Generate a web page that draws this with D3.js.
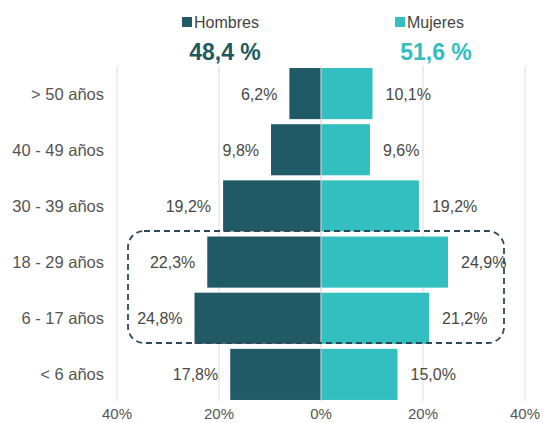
<!DOCTYPE html>
<html>
<head>
<meta charset="utf-8">
<script src="https://cdn.jsdelivr.net/npm/d3@7"></script>
<style>
  body { margin: 0; background: #fff; }
  text { font-family: "Liberation Sans", Arial, sans-serif; }
</style>
</head>
<body>
<script>
let width = 543, height = 423;

// data
let grupos = ["> 50 años", "40 - 49 años", "30 - 39 años", "18 - 29 años", "6 - 17 años", "< 6 años"];
let hombres = [6.2, 9.8, 19.2, 22.3, 24.8, 17.8];
let mujeres = [10.1, 9.6, 19.2, 24.9, 21.2, 15.0];
let ticks = [-40, -20, 0, 20, 40];
let totales = ["48,4 %", "51,6 %"];
let series = ["Hombres", "Mujeres"];

let colH = "#215a67", colM = "#33bfc0";

let svg = d3.select("body").append("svg")
    .attr("width", width)
    .attr("height", height);

let x = d3.scaleLinear().domain([-40, 40]).range([117, 525]);
let y = d3.scaleBand().domain(grupos).range([65.5, 402.5]).paddingInner(0.09).paddingOuter(0.045);

let fmt = v => d3.format(".1f")(v).replace(".", ",") + "%";

// grid
svg.selectAll("line.grid").data(ticks).enter().append("line")
    .attr("class", "grid")
    .attr("x1", d => x(d)).attr("x2", d => x(d))
    .attr("y1", 66).attr("y2", 401)
    .attr("stroke", "#dcdcdc").attr("stroke-width", 1);

// bars
svg.selectAll("rect.h").data(grupos).enter().append("rect")
    .attr("class", "h")
    .attr("x", (d, i) => x(-hombres[i]))
    .attr("y", d => y(d))
    .attr("width", (d, i) => x(0) - x(-hombres[i]))
    .attr("height", y.bandwidth())
    .attr("fill", colH);

svg.selectAll("rect.m").data(grupos).enter().append("rect")
    .attr("class", "m")
    .attr("x", x(0))
    .attr("y", d => y(d))
    .attr("width", (d, i) => x(mujeres[i]) - x(0))
    .attr("height", y.bandwidth())
    .attr("fill", colM);

svg.append("line")
    .attr("x1", x(0)).attr("x2", x(0))
    .attr("y1", 66).attr("y2", 401)
    .attr("stroke", "#e4dede").attr("stroke-width", 1);

// value labels
svg.selectAll("text.lh").data(grupos).enter().append("text")
    .attr("x", (d, i) => x(-hombres[i]) - 12)
    .attr("y", d => y(d) + y.bandwidth() / 2 + 6)
    .attr("text-anchor", "end")
    .attr("font-size", 16).attr("fill", "#484848")
    .text((d, i) => fmt(hombres[i]));

svg.selectAll("text.lm").data(grupos).enter().append("text")
    .attr("x", (d, i) => x(mujeres[i]) + 13)
    .attr("y", d => y(d) + y.bandwidth() / 2 + 6)
    .attr("font-size", 16).attr("fill", "#484848")
    .text((d, i) => fmt(mujeres[i]));

// category labels
svg.selectAll("text.cat").data(grupos).enter().append("text")
    .attr("x", 104)
    .attr("y", d => y(d) + y.bandwidth() / 2 + 6)
    .attr("text-anchor", "end")
    .attr("font-size", 16.5).attr("fill", "#555")
    .text(d => d);

// x axis labels
svg.selectAll("text.tick").data(ticks).enter().append("text")
    .attr("x", d => x(d))
    .attr("y", 419)
    .attr("text-anchor", "middle")
    .attr("font-size", 15).attr("fill", "#555")
    .text(d => Math.abs(d) + "%");

// highlight box
svg.append("rect")
    .attr("x", 128).attr("y", 231)
    .attr("width", 376).attr("height", 112)
    .attr("rx", 16).attr("ry", 16)
    .attr("fill", "none")
    .attr("stroke", "#2c4a55").attr("stroke-width", 1.8)
    .attr("stroke-dasharray", "6,4");

// legend + totals
let leg = [{x: 182, c: colH, t: 225}, {x: 395, c: colM, t: 436}];
leg.forEach((l, i) => {
    svg.append("rect").attr("x", l.x).attr("y", 17).attr("width", 10).attr("height", 10).attr("fill", l.c);
    svg.append("text").attr("x", l.x + 12).attr("y", 28)
        .attr("font-size", 16).attr("fill", "#444").text(series[i]);
    svg.append("text").attr("x", l.t).attr("y", 60)
        .attr("text-anchor", "middle")
        .attr("font-size", 23).attr("font-weight", "bold")
        .attr("fill", i == 0 ? "#1f5a5f" : colM)
        .text(totales[i]);
});
</script>
</body>
</html>
